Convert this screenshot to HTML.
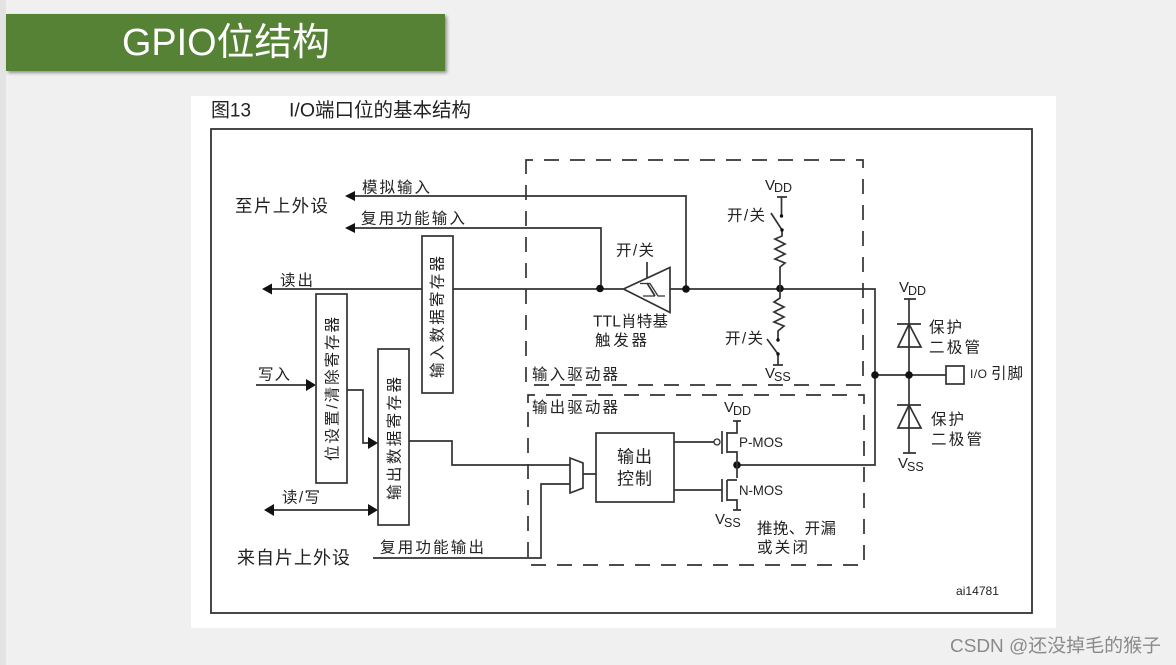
<!DOCTYPE html>
<html><head><meta charset="utf-8">
<style>
html,body{margin:0;padding:0;background:#f0f0f0;width:1176px;height:665px;overflow:hidden}
svg{display:block}
text{font-family:"Liberation Sans","Noto Sans CJK SC",sans-serif;fill:#222}
.l{fill:none;stroke:#333;stroke-width:1.7}
.d{fill:none;stroke:#333;stroke-width:1.7;stroke-dasharray:15 11}
.t{font-size:15.5px}
.b{fill:#fff;stroke:#333;stroke-width:1.7}
.k{fill:#111;stroke:none}
</style></head><body>
<svg width="1176" height="665" viewBox="0 0 1176 665" xmlns="http://www.w3.org/2000/svg">
<defs><filter id="s" x="-5%" y="-20%" width="110%" height="140%"><feDropShadow dx="2" dy="2" stdDeviation="1.5" flood-color="#000" flood-opacity=".4"/></filter></defs>
<rect width="1176" height="665" fill="#f0f0f0"/>
<rect width="6" height="665" fill="#e3e3e3"/>
<rect x="6" y="14" width="439" height="57" fill="#548235" filter="url(#s)"/>
<text x="122" y="55" font-size="38" style="fill:#fff" textLength="208" lengthAdjust="spacingAndGlyphs">GPIO位结构</text>
<rect x="191" y="96" width="865" height="532" fill="#fff"/>
<text x="211" y="116.500" font-size="19.500" textLength="40" lengthAdjust="spacingAndGlyphs">图13</text>
<text x="289" y="116.500" font-size="19.500" textLength="182" lengthAdjust="spacingAndGlyphs">I/O端口位的基本结构</text>
<rect x="211" y="129" width="821" height="484" fill="none" stroke="#333" stroke-width="1.8"/>

<!-- dashed boxes -->
<path class="d" d="M526 168V160H863V385H526V168"/>
<path class="d" d="M528 403V395H864V565H528V403"/>

<!-- wires -->
<path class="l" d="M352 196H686V289M352 228H601V289M270 289H422M453 289H623M670 289H875V465H737"/>
<path class="l" d="M875 375H946M909 299V374M909 375V453"/>
<path class="l" d="M256 385H306M347 390H363V443H369M272 510H369M409 441H452V465H570M373 558H541V484H570M583 474H596M674 442H714M674 490H722"/>
<path class="l" d="M647 262V280"/>

<!-- arrows -->
<path class="k" d="M345 196l10-5v10zM345 228l10-5v10zM262 289l10-5.500v11zM316 385l-10-6v12zM378 443l-10-6v12zM378 510l-10-6v12zM264 510l10-6v12z"/>

<!-- nodes -->
<g class="k"><circle cx="600" cy="288.500" r="3.800"/><circle cx="686" cy="289" r="3.800"/><circle cx="780" cy="288.500" r="3.800"/><circle cx="875" cy="375" r="3.800"/><circle cx="909" cy="375" r="3.800"/><circle cx="737" cy="465" r="3.800"/></g>

<!-- schmitt -->
<path class="b" d="M623.500 289L670 267.500V312.500Z"/>
<path class="l" d="M640 283.500H650L658 296H665M643 296H655" style="stroke-width:1.300"/>
<path class="l" d="M647 283L655 296"/>

<!-- pull up -->
<path class="l" d="M777 197H787M781.500 197V216M771 213L782 230M782 230V236L775 239L785 244L775 249L785 254L775 259L785 263L780 267V289"/>
<circle class="k" cx="781.500" cy="216" r="1.700"/><circle class="k" cx="782" cy="230" r="1.700"/>
<!-- pull down -->
<path class="l" d="M780 289V298L774 302L784 307L774 312L784 317L774 322L784 326L778 331V340M767 339L778 354V365M773 365H783"/>
<circle class="k" cx="778" cy="340" r="1.700"/><circle class="k" cx="778" cy="354" r="1.700"/>

<!-- diodes -->
<path class="l" d="M904 299H916M897 324H921M909 324L898 347H921ZM897 405H921M909 405L898 428H921ZM903 453H916"/>
<rect class="b" x="946" y="366" width="18" height="18"/>

<!-- mux / control -->
<path class="b" d="M570 458L583 463V488L570 493Z"/>
<rect class="b" x="596" y="433" width="78" height="69"/>

<!-- mos -->
<circle cx="717" cy="442" r="3" fill="#fff" stroke="#333" stroke-width="1.300"/>
<path class="l" d="M722 431V454M727 432V453M727 433H737V421M733 421H741M727 452H737V478M722 479V502M727 480V501M727 480H737M727 500H737V510M733 510H741"/>

<!-- registers -->
<rect class="b" x="316" y="294" width="31" height="189"/>
<rect class="b" x="378" y="349" width="31" height="176"/>
<rect class="b" x="422" y="236" width="31" height="157"/>
<text class="t" transform="translate(337.500 461) rotate(-90)" textLength="144">位设置/清除寄存器</text>
<text class="t" transform="translate(399.500 500) rotate(-90)" textLength="123">输出数据寄存器</text>
<text class="t" transform="translate(442.500 378) rotate(-90)" textLength="122">输入数据寄存器</text>

<!-- labels -->
<text x="235" y="212" font-size="17.500" textLength="93">至片上外设</text>
<text x="237" y="564" font-size="18" textLength="113">来自片上外设</text>
<text class="t" x="362" y="192.500" textLength="68">模拟输入</text>
<text class="t" x="361" y="223.500" textLength="104">复用功能输入</text>
<text class="t" x="280" y="285.500" textLength="33">读出</text>
<text class="t" x="258" y="379.500" textLength="32">写入</text>
<text class="t" x="282" y="502.500" textLength="38">读/写</text>
<text class="t" x="380" y="552.500" textLength="104">复用功能输出</text>
<text class="t" x="616" y="255.500" textLength="38">开/关</text>
<text class="t" x="727" y="220.500" textLength="38">开/关</text>
<text class="t" x="725" y="343.500" textLength="38">开/关</text>
<text class="t" x="593" y="326.500" textLength="75">TTL肖特基</text>
<text class="t" x="595" y="345.500" textLength="52">触发器</text>
<text class="t" x="532" y="379.500" textLength="86">输入驱动器</text>
<text class="t" x="532" y="412.500" textLength="86">输出驱动器</text>
<text x="617" y="462.500" font-size="17" textLength="35">输出</text>
<text x="617" y="484.500" font-size="17" textLength="35">控制</text>
<text class="t" x="757" y="533.500" textLength="79">推挽、开漏</text>
<text class="t" x="757" y="552.500" textLength="51">或关闭</text>
<text class="t" x="929" y="332.500" textLength="33">保护</text>
<text class="t" x="929" y="352.500" textLength="51">二极管</text>
<text class="t" x="931" y="424.500" textLength="33">保护</text>
<text class="t" x="931" y="444.500" textLength="51">二极管</text>
<text x="970" y="378" font-size="12" textLength="17">I/O</text>
<text class="t" x="991" y="378.500" textLength="32">引脚</text>
<text x="739" y="447" font-size="14" textLength="44" lengthAdjust="spacingAndGlyphs">P-MOS</text>
<text x="739" y="495" font-size="14" textLength="44" lengthAdjust="spacingAndGlyphs">N-MOS</text>
<text x="956" y="595" font-size="12" textLength="43" lengthAdjust="spacingAndGlyphs">ai14781</text>

<text x="765" y="190" font-size="15">V<tspan font-size="12.500" dy="2" dx="-1">DD</tspan></text>
<text x="765" y="378" font-size="15">V<tspan font-size="12.500" dy="3" dx="-1">SS</tspan></text>
<text x="724" y="412" font-size="15">V<tspan font-size="12.500" dy="3" dx="-1">DD</tspan></text>
<text x="715" y="524" font-size="15">V<tspan font-size="12.500" dy="3" dx="-1">SS</tspan></text>
<text x="899" y="292" font-size="15">V<tspan font-size="12.500" dy="3" dx="-1">DD</tspan></text>
<text x="898" y="468" font-size="15">V<tspan font-size="12.500" dy="3" dx="-1">SS</tspan></text>

<text x="950" y="652" font-size="18.500" style="fill:#8a8a8a" textLength="211" lengthAdjust="spacingAndGlyphs">CSDN @还没掉毛的猴子</text>
</svg>
</body></html>
